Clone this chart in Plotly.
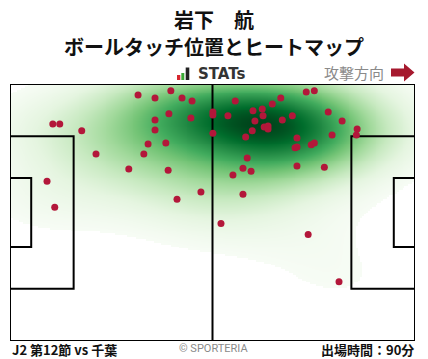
import numpy as np
import plotly.graph_objects as go

# ---- data: ball touch positions (pitch metres, x: 0-105 attacking right, y: 0-68) ----
touch_x = [33.2, 37.6, 41.7, 44.6, 47.2, 11.1, 12.9, 18.6, 41.2, 37.6,
           46.9, 37.6, 52.6, 52.6, 52.6, 35.8, 40.4, 22.3, 34.7, 30.8,
           41.0, 9.6, 49.5, 43.3, 11.6, 58.4, 70.2, 76.8, 78.9, 68.0,
           63.0, 65.4, 65.6, 56.5, 63.5, 70.6, 73.2, 65.9, 66.9, 66.9,
           62.8, 61.1, 82.5, 86.1, 90.0, 89.8, 83.5, 74.4, 73.9, 74.4,
           78.1, 78.9, 61.5, 60.4, 62.5, 57.8, 74.4, 81.5, 60.4, 54.7,
           77.3, 85.3]
touch_y = [65.1, 64.3, 66.2, 64.3, 63.5, 57.4, 57.4, 55.6, 60.1, 58.5,
           59.0, 55.8, 60.6, 59.8, 55.0, 52.1, 52.4, 49.5, 49.5, 45.5,
           45.2, 42.3, 39.4, 37.5, 35.4, 63.5, 64.3, 65.9, 66.2, 62.7,
           60.9, 61.4, 59.6, 59.6, 58.2, 58.5, 59.6, 56.6, 56.9, 56.1,
           55.6, 54.0, 60.6, 58.2, 56.1, 54.5, 54.5, 53.7, 51.1, 51.3,
           51.9, 52.4, 48.4, 45.7, 44.9, 43.9, 46.3, 46.0, 38.8, 31.1,
           28.2, 15.7]

player = "岩下　航"
title2 = "ボールタッチ位置とヒートマップ"
match_label = "J2 第12節 vs 千葉"
minutes_label = "出場時間：90分"

PITCH_L, PITCH_W = 105.0, 68.0
BOX_D, BOX_W = 16.5, 40.32
GA_D, GA_W = 5.5, 18.32

# ---- KDE (Scott bandwidth, widened) ----
P = np.vstack([touch_x, touch_y])
n = P.shape[1]
factor = n ** (-1.0 / 6.0) * 1.4
cov = np.cov(P) * factor ** 2
inv = np.linalg.inv(cov)
norm = 1.0 / (2 * np.pi * np.sqrt(np.linalg.det(cov)) * n)

def kde(gx, gy):
    XX, YY = np.meshgrid(gx, gy)
    Z = np.zeros_like(XX)
    for i in range(n):
        dx = XX - P[0, i]
        dy = YY - P[1, i]
        q = inv[0, 0] * dx * dx + 2 * inv[0, 1] * dx * dy + inv[1, 1] * dy * dy
        Z += np.exp(-0.5 * q)
    return Z * norm

bw = np.sqrt(np.diag(cov))
sx = np.linspace(min(touch_x) - 3 * bw[0], max(touch_x) + 3 * bw[0], 200)
sy = np.linspace(min(touch_y) - 3 * bw[1], max(touch_y) + 3 * bw[1], 200)
Zs = kde(sx, sy)
vals = np.sort(Zs.ravel())[::-1]
cum = np.cumsum(vals) / vals.sum()
thresh = vals[min(np.searchsorted(cum, 0.95), len(vals) - 1)]

gx = np.linspace(0, PITCH_L, 211)
gy = np.linspace(0, PITCH_W, 137)
Z = kde(gx, gy)
Zm = np.where(Z >= thresh, Z, np.nan)

W, H = 428, 359
ML, MR, MT, MB = 10, 13, 84, 18
PW, PH = W - ML - MR, H - MT - MB

def fx(px):
    return (px - ML) / PW

def fy(py):
    return (H - MB - py) / PH

fig = go.Figure()
fig.add_trace(go.Heatmap(x=gx, y=gy, z=Zm, colorscale="Greens", zmin=thresh,
                         zmax=float(np.nanmax(Z)), zsmooth="best", showscale=False,
                         hoverinfo="skip"))

line_style = dict(color="black", width=2)
cy = PITCH_W / 2
segs = [
    ([PITCH_L / 2, PITCH_L / 2], [0, PITCH_W]),
    ([0, BOX_D, BOX_D, 0], [cy - BOX_W / 2, cy - BOX_W / 2, cy + BOX_W / 2, cy + BOX_W / 2]),
    ([0, GA_D, GA_D, 0], [cy - GA_W / 2, cy - GA_W / 2, cy + GA_W / 2, cy + GA_W / 2]),
    ([PITCH_L, PITCH_L - BOX_D, PITCH_L - BOX_D, PITCH_L], [cy - BOX_W / 2, cy - BOX_W / 2, cy + BOX_W / 2, cy + BOX_W / 2]),
    ([PITCH_L, PITCH_L - GA_D, PITCH_L - GA_D, PITCH_L], [cy - GA_W / 2, cy - GA_W / 2, cy + GA_W / 2, cy + GA_W / 2]),
]
for sxv, syv in segs:
    fig.add_trace(go.Scatter(x=sxv, y=syv, mode="lines", line=line_style,
                             hoverinfo="skip", showlegend=False))

fig.add_trace(go.Scatter(x=touch_x, y=touch_y, mode="markers",
                         marker=dict(color="#b3173a", size=7, line=dict(width=0)),
                         showlegend=False, cliponaxis=False))

shapes = [
    dict(type="rect", xref="x", yref="y", x0=0, x1=PITCH_L, y0=0, y1=PITCH_W,
         line=dict(color="black", width=2), layer="above"),
    # STATs icon bars
    dict(type="rect", xref="paper", yref="paper", x0=fx(177), x1=fx(180.3), y0=fy(80), y1=fy(75),
         fillcolor="#d7262e", line=dict(width=0)),
    dict(type="rect", xref="paper", yref="paper", x0=fx(181.3), x1=fx(184.3), y0=fy(80), y1=fy(73),
         fillcolor="#3aa935", line=dict(width=0)),
    dict(type="rect", xref="paper", yref="paper", x0=fx(185.7), x1=fx(189.3), y0=fy(80), y1=fy(67.5),
         fillcolor="#222222", line=dict(width=0)),
]
# arrow
ap = [(391, 68.5), (404, 68.5), (404, 63.5), (414.5, 72.5), (404, 81.5), (404, 76.5), (391, 76.5)]
path = "M " + " L ".join(f"{fx(a):.5f},{fy(b):.5f}" for a, b in ap) + " Z"
shapes.append(dict(type="path", xref="paper", yref="paper", path=path,
                   fillcolor="#a6192e", line=dict(width=0)))

font_jp = "Noto Sans CJK JP"
ann = [
    dict(text=f"<b>{player}</b>", x=fx(214), y=fy(19.5), font=dict(size=20, color="#111", family=font_jp),
         xanchor="center", yanchor="middle"),
    dict(text=f"<b>{title2}</b>", x=fx(214), y=fy(46.5), font=dict(size=20, color="#111", family=font_jp),
         xanchor="center", yanchor="middle"),
    dict(text="<b>STATs</b>", x=fx(196), y=fy(74), font=dict(size=15, color="#333", family="DejaVu Sans"),
         xanchor="left", yanchor="middle"),
    dict(text="攻撃方向", x=fx(386), y=fy(72.5), font=dict(size=15, color="#8a8a8a", family=font_jp),
         xanchor="right", yanchor="middle"),
    dict(text=f"<b>{match_label}</b>", x=fx(10), y=fy(349), font=dict(size=13, color="#111", family=font_jp),
         xanchor="left", yanchor="middle"),
    dict(text="© SPORTERIA", x=fx(213), y=fy(348.5), font=dict(size=11, color="#8a8a8a", family="Roboto"),
         xanchor="center", yanchor="middle"),
    dict(text=f"<b>{minutes_label}</b>", x=fx(416), y=fy(349), font=dict(size=13, color="#111", family=font_jp),
         xanchor="right", yanchor="middle"),
]
for a in ann:
    a.update(xref="paper", yref="paper", showarrow=False)

fig.update_layout(
    width=W, height=H, margin=dict(l=ML, r=MR, t=MT, b=MB, pad=0),
    paper_bgcolor="white", plot_bgcolor="white",
    xaxis=dict(range=[0, PITCH_L], visible=False, fixedrange=True),
    yaxis=dict(range=[0, PITCH_W], visible=False, fixedrange=True),
    shapes=shapes, annotations=ann, showlegend=False,
)
fig.write_html("out.html", config={"displayModeBar": False},
               post_script="document.body.style.margin='0px';document.body.style.padding='0px';")
